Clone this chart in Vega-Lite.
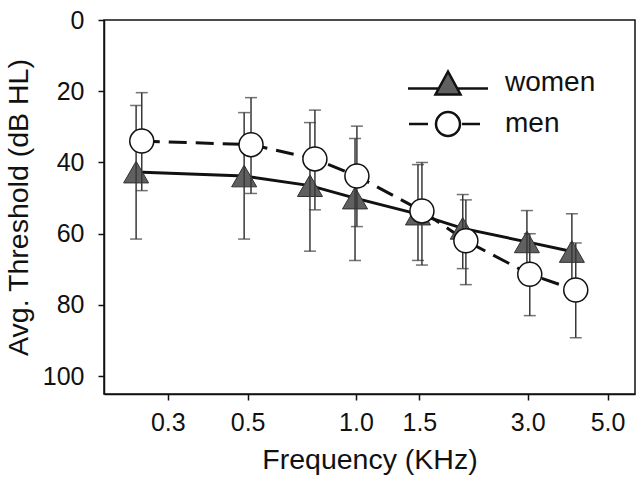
{
  "$schema": "https://vega.github.io/schema/vega-lite/v6.json",
  "width": 531,
  "height": 374,
  "autosize": {"type": "none"},
  "padding": {"left": 104, "top": 20, "right": 1, "bottom": 84},
  "background": "white",
  "config": {
    "font": "Liberation Sans",
    "view": {"stroke": "#111111", "strokeWidth": 1.5},
    "axis": {
      "grid": false,
      "domainColor": "#111111",
      "domainWidth": 1.5,
      "tickColor": "#111111",
      "tickWidth": 1.5,
      "tickSize": 6,
      "labelFont": "Liberation Sans",
      "labelFontSize": 25,
      "labelColor": "#111111",
      "titleFont": "Liberation Sans",
      "titleFontSize": 28.5,
      "titleFontWeight": "normal",
      "titleColor": "#111111"
    }
  },
  "data": {
    "values": [
      {"sex": "women", "freq": 0.245, "thr": 42.7, "lo": 24, "hi": 61.5},
      {"sex": "women", "freq": 0.489, "thr": 43.8, "lo": 26, "hi": 61.5},
      {"sex": "women", "freq": 0.745, "thr": 46.5, "lo": 28.8, "hi": 64.9},
      {"sex": "women", "freq": 0.994, "thr": 50, "lo": 33.3, "hi": 67.5},
      {"sex": "women", "freq": 1.487, "thr": 54.5, "lo": 40.6, "hi": 67.5},
      {"sex": "women", "freq": 1.98, "thr": 58.5, "lo": 49, "hi": 69.8},
      {"sex": "women", "freq": 2.985, "thr": 62.3, "lo": 53.5, "hi": 72},
      {"sex": "women", "freq": 3.98, "thr": 65, "lo": 54.4, "hi": 76},
      {"sex": "men", "freq": 0.254, "thr": 34, "lo": 20.4, "hi": 47.9},
      {"sex": "men", "freq": 0.511, "thr": 35, "lo": 21.8, "hi": 48.7},
      {"sex": "men", "freq": 0.769, "thr": 39, "lo": 25.3, "hi": 53.3},
      {"sex": "men", "freq": 1.006, "thr": 43.8, "lo": 29.8, "hi": 58},
      {"sex": "men", "freq": 1.525, "thr": 53.6, "lo": 40, "hi": 68.8},
      {"sex": "men", "freq": 2.02, "thr": 62, "lo": 50.5, "hi": 74.3},
      {"sex": "men", "freq": 3.04, "thr": 71.4, "lo": 60, "hi": 83},
      {"sex": "men", "freq": 4.08, "thr": 75.8, "lo": 62.6, "hi": 89.2}
    ]
  },
  "encoding": {
    "x": {
      "field": "freq",
      "type": "quantitative",
      "scale": {"type": "log", "domain": [0.1995, 5.96], "nice": false},
      "axis": {
        "values": [0.3, 0.5, 1, 1.5, 3, 5],
        "format": ".1f",
        "title": "Frequency (KHz)",
        "labelPadding": 10,
        "titlePadding": 10
      }
    },
    "y": {
      "field": "thr",
      "type": "quantitative",
      "scale": {"domain": [0, 105], "reverse": true, "nice": false, "zero": false},
      "axis": {
        "values": [0, 20, 40, 60, 80, 100],
        "format": "d",
        "title": "Avg. Threshold (dB HL)",
        "labelPadding": 14,
        "titlePadding": 9
      }
    }
  },
  "layer": [
    {
      "transform": [{"filter": "datum.sex === 'women'"}],
      "mark": {"type": "line", "color": "#111111", "strokeWidth": 3},
      "encoding": {}
    },
    {
      "transform": [{"filter": "datum.sex === 'men'"}],
      "mark": {"type": "line", "color": "#111111", "strokeWidth": 3, "strokeDash": [18, 9]},
      "encoding": {}
    },
    {
      "transform": [{"filter": "datum.sex === 'women'"}],
      "mark": {"type": "point", "shape": "triangle-up", "size": 625, "filled": true, "fill": "#606060", "stroke": "#303030", "strokeWidth": 1, "opacity": 1}
    },
    {
      "mark": {"type": "rule", "color": "#383838", "strokeWidth": 1.5},
      "encoding": {
        "y": {"field": "lo", "type": "quantitative"},
        "y2": {"field": "hi"}
      }
    },
    {
      "mark": {"type": "tick", "orient": "horizontal", "size": 12, "thickness": 1.5, "color": "#383838"},
      "encoding": {"y": {"field": "lo", "type": "quantitative"}}
    },
    {
      "mark": {"type": "tick", "orient": "horizontal", "size": 12, "thickness": 1.5, "color": "#383838"},
      "encoding": {"y": {"field": "hi", "type": "quantitative"}}
    },
    {
      "transform": [{"filter": "datum.sex === 'men'"}],
      "mark": {"type": "point", "shape": "circle", "size": 576, "filled": true, "fill": "white", "stroke": "#111111", "strokeWidth": 1.5, "opacity": 1}
    },
    {
      "mark": {"type": "point", "filled": true, "opacity": 0, "size": 625, "stroke": "#111111", "strokeWidth": 2.5},
      "encoding": {
        "shape": {
          "field": "sex",
          "type": "nominal",
          "scale": {
            "domain": ["women", "men"],
            "range": [
              "M0,-0.92L1,0.92L-1,0.92Z M-3.2,0.44H-0.74 M0.74,0.44H3.2",
              "M0.96,0A0.96,0.96 0 1,1 -0.96,0A0.96,0.96 0 1,1 0.96,0Z M-3.12,0H-1.6 M1.12,0H2.56"
            ]
          },
          "legend": {
            "title": null, "orient": "none", "legendX": 330, "legendY": 49, "padding": 0,
            "labelFontSize": 28, "labelColor": "#111111", "labelOffset": 43, "rowPadding": 7,
            "symbolOpacity": 1, "symbolStrokeColor": "#111111", "symbolStrokeWidth": 2.5, "symbolSize": 625,
            "encode": {"symbols": {"update": {"stroke": {"value": "#111111"}, "strokeWidth": {"value": 2.5}, "opacity": {"value": 1}, "strokeOpacity": {"value": 1}}}}
          }
        },
        "fill": {
          "field": "sex",
          "type": "nominal",
          "scale": {"domain": ["women", "men"], "range": ["#606060", "white"]},
          "legend": {
            "title": null, "orient": "none", "legendX": 330, "legendY": 49, "padding": 0,
            "labelFontSize": 28, "labelColor": "#111111", "labelOffset": 43, "rowPadding": 7,
            "symbolOpacity": 1, "symbolStrokeColor": "#111111", "symbolStrokeWidth": 2.5, "symbolSize": 625,
            "encode": {"symbols": {"update": {"stroke": {"value": "#111111"}, "strokeWidth": {"value": 2.5}, "opacity": {"value": 1}, "strokeOpacity": {"value": 1}}}}
          }
        }
      }
    }
  ]
}
